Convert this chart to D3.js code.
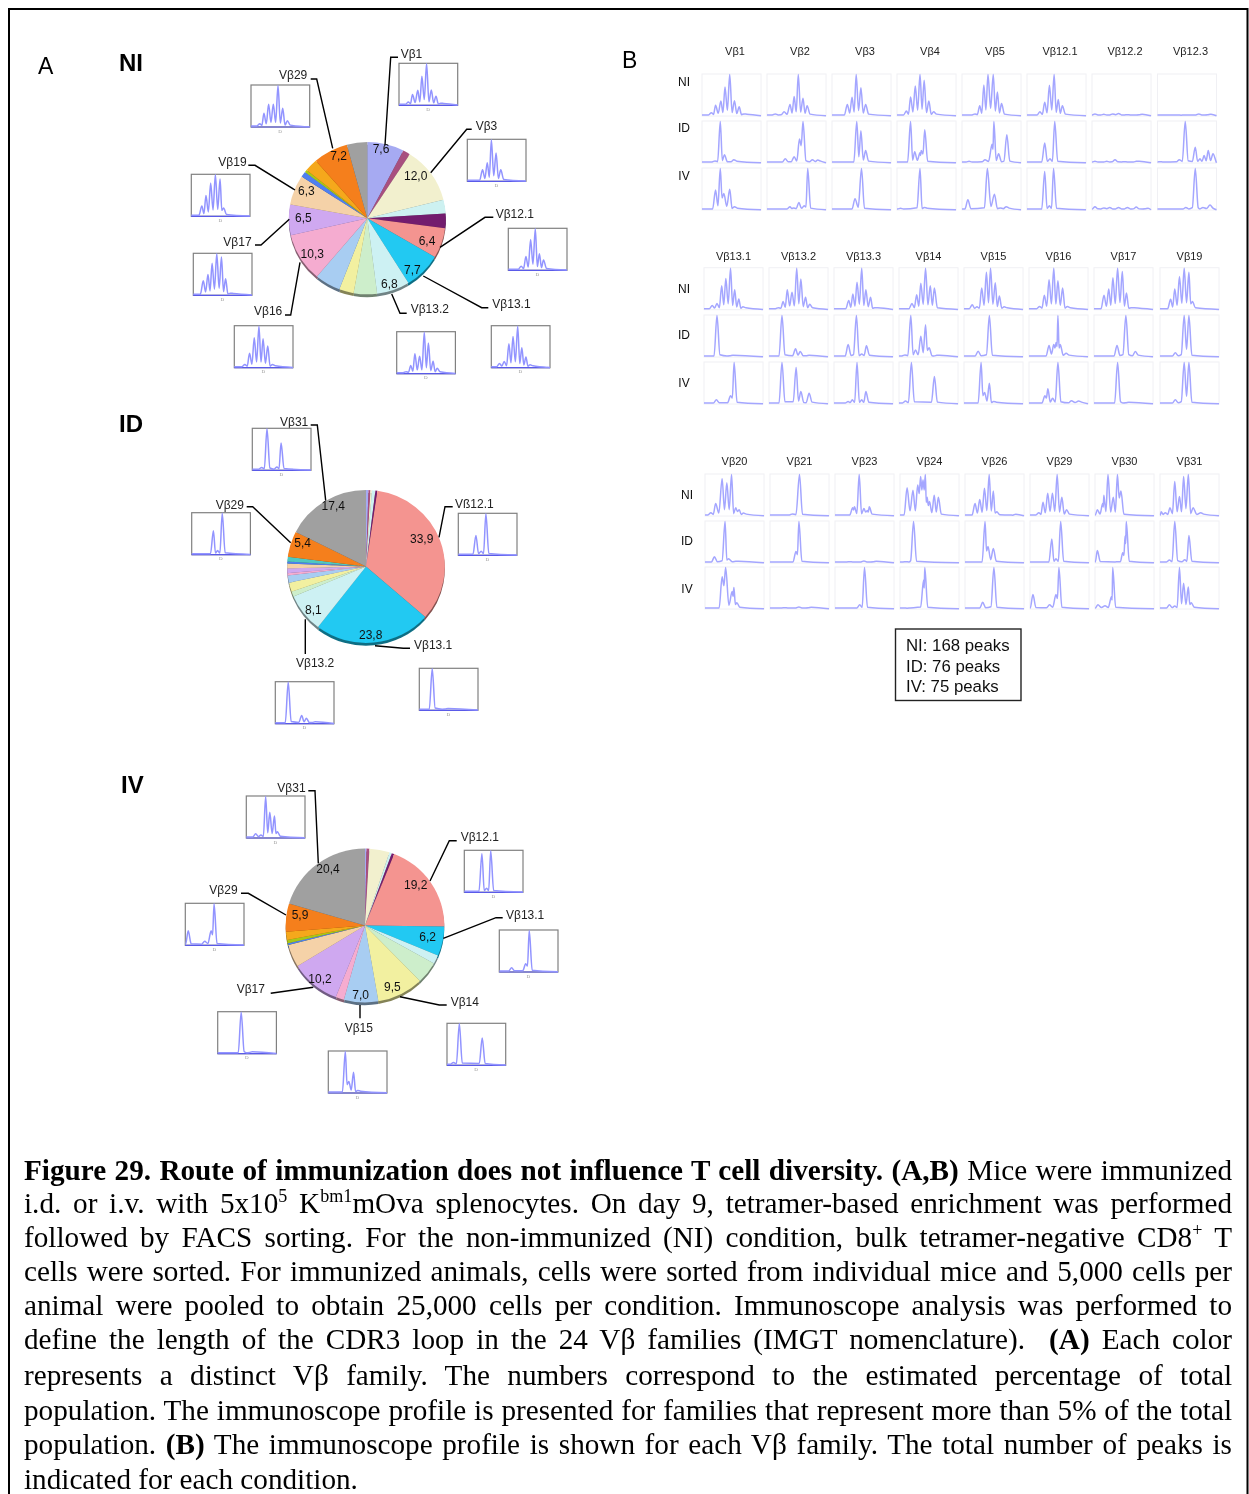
<!DOCTYPE html>
<html><head><meta charset="utf-8">
<style>html,body{margin:0;padding:0;background:#fff}svg{display:block}</style>
<script src="https://cdn.jsdelivr.net/npm/d3@7"></script>
</head><body><svg id="c" width="1249" height="1494"></svg>
<script>
// ---------- DATA ----------
const sliceColors = ["#a6aaf2","#a84f7f","#f2f0ce","#cdf1f1","#731a6e","#f49490","#20c9f2","#cdf1f3","#cdeecb","#f2f0a0","#a8cdf2","#f5acd0","#cfa8f0","#f5d2a8","#4f7ff0","#50c8c0","#a8c814","#f5a81a","#f57f1a","#a0a0a0"];
const niValues = [7.6,1.5,12.0,2.9,3.1,6.4,7.7,6.8,4.8,3.0,5.3,10.3,6.5,6.3,1.2,0,0.5,2.7,7.2,4.2];
const idValues = [0.5,0.4,0.3,0.7,0.4,33.9,23.8,8.1,1.1,1.9,1.5,0.5,1.0,1.0,0.4,1.0,0,0,5.4,17.4];
const ivValues = [0.3,0.6,4.1,0.5,0.5,19.2,6.2,1.8,4.6,9.5,7.0,1.7,10.2,4.7,0.4,0,0.7,1.7,5.9,20.4];

const families = ["Vβ1","Vβ2","Vβ3","Vβ4","Vβ5","Vβ12.1","Vβ12.2","Vβ12.3","Vβ13.1","Vβ13.2","Vβ13.3","Vβ14","Vβ15","Vβ16","Vβ17","Vβ19","Vβ20","Vβ21","Vβ23","Vβ24","Vβ26","Vβ29","Vβ30","Vβ31"];
const conditions = ["NI","ID","IV"];
const legendLines = ["NI: 168 peaks","ID: 76 peaks","IV: 75 peaks"];

// peaks read from each profile: [relative position, relative height]
const peaksNI = [
[[.16,.08],[.23,.26],[.32,.36],[.39,.7],[.47,1],[.55,.37],[.63,.22],[.71,.05]],
[[.14,.05],[.29,.1],[.39,.28],[.46,.47],[.53,1],[.61,.43],[.68,.25]],
[[.26,.28],[.34,.45],[.41,1],[.49,.68],[.57,.28]],
[[.16,.12],[.23,.46],[.31,.72],[.39,1],[.46,.86],[.54,.36],[.62,.1]],
[[.22,.05],[.3,.25],[.37,.75],[.44,1],[.53,1],[.6,.58],[.67,.3]],
[[.22,.1],[.3,.33],[.38,.74],[.46,1],[.53,.4],[.6,.25]],
[[.05,.05],[.2,.04],[.35,.05],[.45,.06],[.6,.03],[.8,.03]],
[[.4,.02],[.7,.05],[.85,.03]],
[[.14,.1],[.22,.15],[.3,.58],[.37,.75],[.45,1],[.52,.48],[.59,.26],[.66,.07]],
[[.16,.05],[.24,.2],[.31,.48],[.39,.42],[.47,1],[.54,.74],[.62,.3],[.69,.13]],
[[.25,.22],[.32,.38],[.39,.66],[.47,1],[.54,.48],[.62,.3],[.69,.05]],
[[.22,.15],[.3,.36],[.37,.64],[.45,1],[.53,.58],[.6,.52]],
[[.14,.12],[.22,.07],[.3,.52],[.38,.9],[.45,1],[.53,.65],[.6,.33],[.68,.07]],
[[.18,.08],[.26,.35],[.34,.72],[.42,1],[.49,.7],[.57,.52],[.65,.08]],
[[.17,.35],[.25,.5],[.32,.77],[.4,1],[.48,.92],[.55,.4],[.63,.05]],
[[.18,.25],[.25,.5],[.33,.8],[.41,1],[.49,.9],[.55,.2]],
[[.1,.08],[.18,.3],[.29,.9],[.37,.8],[.45,1],[.52,.2],[.58,.15],[.65,.07]],
[[.38,.05],[.5,1]],
[[.3,.2],[.33,.22],[.41,1],[.49,.18],[.55,.13],[.58,.22]],
[[.12,.68],[.22,.62],[.3,.75],[.35,.95],[.39,.87],[.43,1],[.46,.45],[.5,.35],[.58,.5],[.65,.45]],
[[.17,.3],[.25,.4],[.33,.67],[.41,1],[.48,.6],[.54,.1],[.81,.02]],
[[.15,.08],[.22,.33],[.3,.55],[.38,.55],[.46,1],[.54,.45],[.62,.15]],
[[.04,.15],[.13,.3],[.15,.5],[.22,1],[.31,.45],[.38,1],[.44,.6]],
[[.02,.1],[.09,.08],[.17,.2],[.25,.83],[.33,.47],[.4,.95],[.48,1],[.56,.2],[.69,.08]]
];
const peaksID = [
[[.22,.05],[.31,1],[.38,.2],[.54,.08]],
[[.31,.1],[.46,.15],[.55,.58],[.61,1],[.77,.08],[.86,.07]],
[[.42,1],[.49,.78],[.57,.3]],
[[.23,1],[.3,.27],[.39,.25],[.41,.3],[.47,.8]],
[[.12,.04],[.39,.08],[.51,.45],[.54,1],[.62,.22],[.76,.68]],
[[.3,.48],[.39,.1],[.47,1]],
[[.05,.04],[.25,.04],[.39,.08],[.55,.03],[.75,.04]],
[[.04,.03],[.37,.08],[.47,1],[.64,.38],[.72,.1],[.79,.18],[.86,.3],[.94,.22]],
[[.22,1],[.44,.03]],
[[.22,1],[.45,.2],[.53,.13],[.63,.03]],
[[.24,.3],[.38,1],[.47,.07],[.55,.27]],
[[.1,.05],[.2,1],[.28,.17],[.37,.5],[.45,.78],[.51,.22],[.64,.04]],
[[.24,.14],[.43,1]],
[[.34,.28],[.42,.3],[.46,.35],[.49,1],[.53,.3],[.63,.09]],
[[.39,.28],[.54,1],[.7,.13]],
[[.26,.1],[.41,1],[.49,1]],
[[.16,.15],[.34,1],[.4,.1],[.52,.04]],
[[.44,.28],[.49,1]],
[[.25,.03],[.49,.05],[.65,.03]],
[[.1,.03],[.23,1]],
[[.34,1],[.39,.4],[.48,.35]],
[[.37,.58],[.44,.1],[.52,1]],
[[.04,.3],[.39,.03],[.47,.25],[.51,.65],[.53,1]],
[[.16,.07],[.25,1],[.42,.08],[.49,.66]]
];
const peaksIV = [
[[.23,.48],[.31,1],[.37,.4],[.47,.5],[.55,.08]],
[[.39,.08],[.45,.05],[.54,.18],[.63,.1],[.69,1]],
[[.39,.27],[.5,1]],
[[.06,.04],[.39,1],[.46,.06]],
[[.1,.25],[.43,1],[.55,.38],[.65,.05],[.75,.08]],
[[.3,.93],[.38,.1],[.45,1]],
[[.05,.08],[.2,.05],[.3,.06],[.45,.06],[.6,.06],[.75,.07],[.9,.03]],
[[.48,.06],[.64,1],[.77,.06],[.89,.12]],
[[.21,.1],[.45,.2],[.51,1]],
[[.22,1],[.46,.88],[.54,.3],[.68,.26]],
[[.24,.06],[.31,.1],[.39,1],[.47,.1],[.54,.3]],
[[.11,.07],[.21,1],[.6,.66]],
[[.29,1],[.35,.28],[.43,.5],[.5,.06]],
[[.27,.2],[.32,.37],[.4,.14],[.49,1],[.72,.08],[.84,.07]],
[[.4,1],[.54,.03]],
[[.26,.1],[.41,1],[.49,1]],
[[.29,.78],[.35,1],[.46,.42],[.49,.52],[.54,.15]],
[[.25,.03],[.49,.05],[.65,.03]],
[[.42,.1],[.5,1]],
[[.12,.02],[.4,.7],[.42,1]],
[[.3,.16],[.49,1]],
[[.05,.35],[.33,.1],[.44,.35],[.49,1]],
[[.05,.1],[.17,.08],[.28,.3],[.3,1]],
[[.16,.1],[.25,.07],[.33,1],[.4,.62],[.48,.53],[.53,.15]]
];
const peakRows = {NI:peaksNI, ID:peaksID, IV:peaksIV};

const captionLines = [
 [["b","Figure 29. Route of immunization does not influence T cell diversity. (A,B)"],[""," Mice were immunized"]],
 [["","i.d. or i.v. with 5x10"],["s","5"],[""," K"],["s","bm1"],["","mOva splenocytes. On day 9, tetramer-based enrichment was performed"]],
 [["","followed by FACS sorting. For the non-immunized (NI) condition, bulk tetramer-negative CD8"],["s","+"],[""," T"]],
 [["","cells were sorted. For immunized animals, cells were sorted from individual mice and 5,000 cells per"]],
 [["","animal were pooled to obtain 25,000 cells per condition. Immunoscope analysis was performed to"]],
 [["","define the length of the CDR3 loop in the 24 Vβ families (IMGT nomenclature).  "],["b","(A)"],[""," Each color"]],
 [["","represents a distinct Vβ family. The numbers correspond to the estimated percentage of total"]],
 [["","population. The immunoscope profile is presented for families that represent more than 5% of the total"]],
 [["","population. "],["b","(B)"],[""," The immunoscope profile is shown for each Vβ family. The total number of peaks is"]],
 [["","indicated for each condition."]]
];

// ---------- LAYOUT ----------
const W=1249,H=1494;
const svg=d3.select("#c");
const sans='"Liberation Sans",Arial,sans-serif', serif='"Liberation Serif","Times New Roman",serif';
const defs=svg.append("defs");
defs.append("filter").attr("id","soft").attr("filterUnits","userSpaceOnUse").attr("x",0).attr("y",0).attr("width",W).attr("height",1130)
  .append("feGaussianBlur").attr("stdDeviation",0.45);
const charts=svg.append("g").attr("filter","url(#soft)");

svg.append("path").attr("d",`M9 ${H}V9H1247.5V${H}`).attr("fill","none").attr("stroke","#000").attr("stroke-width",2);

function headText(t,x,y,size,weight){
  charts.append("text").attr("x",x).attr("y",y).attr("font-family",sans).attr("font-size",size)
    .attr("font-weight",weight).attr("fill","#000").text(t);
}
headText("A",38,74,23,"normal"); headText("B",622,68,23,"normal");
headText("NI",119,71,24,"bold"); headText("ID",119,432,24,"bold"); headText("IV",121,793,24,"bold");

// profile drawing
const baseLevel=.025, halfWidth=.034, footWidth=.05;
function profilePoints(peaks){
  const pts=[[0,baseLevel]];
  peaks.forEach((p,i)=>{
    const prev=peaks[i-1];
    if(prev){
      const gap=p[0]-prev[0];
      if(gap<1.9*halfWidth) pts.push([(p[0]+prev[0])/2,Math.max(baseLevel,.72*Math.min(p[1],prev[1]))]);
      else if(gap<.13) pts.push([(p[0]+prev[0])/2,baseLevel+.16*Math.min(p[1],prev[1])]);
      else { pts.push([prev[0]+footWidth,baseLevel+.03*prev[1]]); pts.push([p[0]-footWidth,baseLevel+.03*p[1]]); }
    } else pts.push([Math.max(.005,p[0]-footWidth),baseLevel]);
    pts.push(p);
  });
  const last=peaks[peaks.length-1];
  pts.push([Math.min(.995,last[0]+footWidth),baseLevel+.02]);
  pts.push([1,0.005]);
  return pts;
}
function drawProfile(g,peaks,w,h,color,sw){
  const x=d3.scaleLinear([0,1],[0,w]), y=d3.scaleLinear([0,1],[h,0.5]);
  const line=d3.line().x(d=>x(d[0])).y(d=>y(d[1])).curve(d3.curveMonotoneX);
  g.append("path").attr("d",line(profilePoints(peaks))).attr("fill","none").attr("stroke",color)
   .attr("stroke-width",sw).attr("stroke-linejoin","round");
}

// ---------- PANEL B ----------
const gridBlocks=[
 {xs:[702,767,832,897,962,1027,1092,1157.5], ys:[74,121,168], rowLabelX:684, titleY:51, titleShift:3.5, from:0, rowLabelY:[82,128,176]},
 {xs:[704,769,834,899,964,1029,1094,1160], ys:[267.7,315,362], rowLabelX:684, titleY:256, titleShift:0, from:8, rowLabelY:[289,335,383]},
 {xs:[705,770,835,900,965,1030,1095,1160], ys:[474,521,567], rowLabelX:687, titleY:461, titleShift:0, from:16, rowLabelY:[495,541,589]}
];
const panelW=59,panelH=42;
const gridG=charts.append("g");
gridBlocks.forEach(b=>{
  d3.range(8).forEach(i=>{
    const fam=families[b.from+i];
    gridG.append("text").attr("x",b.xs[i]+panelW/2+b.titleShift).attr("y",b.titleY+3.8).attr("text-anchor","middle")
      .attr("font-family",sans).attr("font-size",11).attr("fill","#222").text(fam);
    conditions.forEach((c,r)=>{
      const g=gridG.append("g").attr("transform",`translate(${b.xs[i]},${b.ys[r]})`);
      g.append("rect").attr("width",panelW).attr("height",panelH).attr("fill","#fff").attr("stroke","#f0f0f4").attr("stroke-width",1);
      drawProfile(g,peakRows[c][b.from+i],panelW,panelH,"#a4a6ff",1.5);
    });
  });
  conditions.forEach((c,r)=>{
    gridG.append("text").attr("x",b.rowLabelX).attr("y",b.rowLabelY[r]+4.2).attr("text-anchor","middle")
      .attr("font-family",sans).attr("font-size",12).attr("fill","#111").text(c);
  });
});

// legend box
const lg=charts.append("g");
lg.append("rect").attr("x",895.5).attr("y",629).attr("width",125.5).attr("height",71.5).attr("fill","#fff").attr("stroke","#222").attr("stroke-width",1.4);
legendLines.forEach((t,i)=>lg.append("text").attr("x",906).attr("y",[651,671.5,692][i]).attr("font-family",sans).attr("font-size",16.8).attr("fill","#111").text(t));

// ---------- PANEL A ----------
const pieLayouts=[
 {cx:367.3,cy:218.2,r:78.5,cond:"NI",values:niValues,
  pct:[[0,381,149],[18,338.7,155.7],[2,415.7,175.7],[13,306.3,191],[12,303.3,217.7],[11,312.3,254],[5,427,240.7],[6,412.3,270],[7,389.3,283.3]],
  callouts:[
   ["Vβ1",400.7,53.3,[[398,57.3],[390.7,57.3],[385,145]],399,63.3],
   ["Vβ29",279,75,[[310.7,79],[316.7,79],[332.7,148.3]],251,85],
   ["Vβ3",475.7,126,[[471.7,129.3],[466.7,129.3],[430.7,172.7]],467.3,139.3],
   ["Vβ19",218.3,162,[[248.3,165.3],[255,165.3],[295,190]],191.3,174.3],
   ["Vβ12.1",495.7,213.3,[[493.3,217.3],[485,217.3],[440,247.3]],508.3,228.3],
   ["Vβ17",223.3,241.7,[[255,245],[261,245],[289.3,219.3]],193.3,253.3],
   ["Vβ16",254,310.7,[[285,315],[290.7,315],[300,262.3]],234.3,325.7],
   ["Vβ13.2",410.7,308.3,[[406.7,313.3],[400,313.3],[391.7,294]],396.7,331.7],
   ["Vβ13.1",492.3,303.3,[[488.3,307.7],[481.7,307.7],[423.3,276]],491.3,325.7]
  ]},
 {cx:366,cy:566.5,r:78.8,cond:"ID",values:idValues,
  pct:[[19,333.3,506],[18,302.7,542.7],[5,421.7,538.7],[7,313.3,609.3],[6,370.7,635]],
  callouts:[
   ["Vβ31",280,421.7,[[310.7,425],[317.3,425],[325.7,500.7]],252.3,428.3],
   ["Vβ29",215.7,504.3,[[246.7,506.7],[252.7,506.7],[290.7,542.7]],191.7,512.7],
   ["Vβ12.1",455,503.3,[[452.7,506.7],[445,506.7],[439,537.3]],458.3,513.3,"Vß12.1"],
   ["Vβ13.1",414,644.3,[[410,648.3],[403.3,648.3],[375,645.7]],419.3,668.3],
   ["Vβ13.2",296,662.7,[[305.3,619.3],[305.3,654]],275.3,681.7]
  ]},
 {cx:365,cy:925.5,r:79.3,cond:"IV",values:ivValues,
  pct:[[19,328,868.3],[5,415.7,885],[18,300,914.3],[6,427.7,937],[9,392.3,986.7],[10,360.7,994.3],[12,320,978.3]],
  callouts:[
   ["Vβ31",277.3,787.7,[[308.3,790.7],[315,790.7],[318.3,863.3]],246.3,796],
   ["Vβ12.1",460.7,836.7,[[456.7,840.7],[449.3,840.7],[430,881]],464.3,850.3],
   ["Vβ29",209.3,890,[[241,893.3],[248.3,893.3],[286,915]],185.3,903.3],
   ["Vβ13.1",506,914.3,[[502.7,917.7],[496,917.7],[443.3,938.3]],499.3,930],
   ["Vβ17",236.7,989,[[270.7,993.3],[313.3,987.3]],217.7,1011.7],
   ["Vβ14",450.7,1001.7,[[446.7,1005],[439.3,1005],[400,996.7]],447,1023.3],
   ["Vβ15",344.7,1027.7,[[360,1005],[360,1018.3]],328.3,1051]
  ]}
];
const pieGen=d3.pie().sort(null).value(d=>d);
const fmt=v=>v.toFixed(1).replace(".",",");
const pg=charts.append("g");
const pieSquash=.97;
pieLayouts.forEach(P=>{
  const arcs=pieGen(P.values);
  const arc=d3.arc().innerRadius(0).outerRadius(P.r);
  const edge=pg.append("g").attr("transform",`translate(${P.cx},${P.cy+2.8}) scale(1,${pieSquash})`);
  edge.selectAll("path").data(arcs).join("path").attr("d",arc)
    .attr("fill",(d,i)=>d3.color(sliceColors[i]).darker(1.7).formatHex());
  const top=pg.append("g").attr("transform",`translate(${P.cx},${P.cy}) scale(1,${pieSquash})`);
  top.selectAll("path").data(arcs).join("path").attr("d",arc).attr("fill",(d,i)=>sliceColors[i]);
  // callout lines and insets
  P.callouts.forEach(c=>{
    pg.append("path").attr("d",d3.line()(c[3])).attr("fill","none").attr("stroke","#000").attr("stroke-width",1.4);
    pg.append("text").attr("x",c[1]).attr("y",c[2]+4.3).attr("font-family",sans).attr("font-size",12).attr("fill","#222").text(c[6]||c[0]);
    const g=pg.append("g").attr("transform",`translate(${c[4]},${c[5]})`);
    g.append("rect").attr("width",58.7).attr("height",42).attr("fill","#fff").attr("stroke","#808080").attr("stroke-width",1.2);
    g.append("line").attr("x2",58.7).attr("y1",42).attr("y2",42).attr("stroke","#5a5ae8").attr("stroke-width",1.2);
    drawProfile(g,peakRows[P.cond][families.indexOf(c[0])],58.7,42,"#9294ff",1.5);
    g.append("text").attr("x",29).attr("y",47.5).attr("text-anchor","middle").attr("font-family",serif).attr("font-size",5).attr("fill","#999").text("D");
  });
  P.pct.forEach(l=>{
    pg.append("text").attr("x",l[1]).attr("y",l[2]+4.3).attr("text-anchor","middle").attr("font-family",sans)
      .attr("font-size",12).attr("fill","#111").text(fmt(P.values[l[0]]));
  });
});

// ---------- CAPTION ----------
const baselines=[1179.7,1213.4,1247.4,1280.7,1314.7,1348.7,1384.7,1419.7,1453.7,1488.7];
const capX=24, capW=1208, capSize=29.2;
const cg=svg.append("g");
captionLines.forEach((segs,i)=>{
  const t=cg.append("text").attr("x",capX).attr("y",baselines[i]).attr("font-family",serif)
    .attr("font-size",capSize).attr("fill","#000").attr("xml:space","preserve").style("white-space","pre");
  let sup=false;
  segs.forEach(s=>{
    const ts=t.append("tspan").text(s[1]);
    if(s[0]==="b") ts.attr("font-weight","bold");
    if(s[0]==="s"){ ts.attr("font-size",capSize*.62).attr("dy",-capSize*.38); sup=true; }
    else if(sup){ ts.attr("dy",capSize*.38); sup=false; }
  });
  if(i<captionLines.length-1){
    const n=segs.map(s=>s[1]).join("").split(" ").length-1;
    const L=t.node().getComputedTextLength();
    t.attr("word-spacing",(capW-L)/n);
  }
});
</script></body></html>
